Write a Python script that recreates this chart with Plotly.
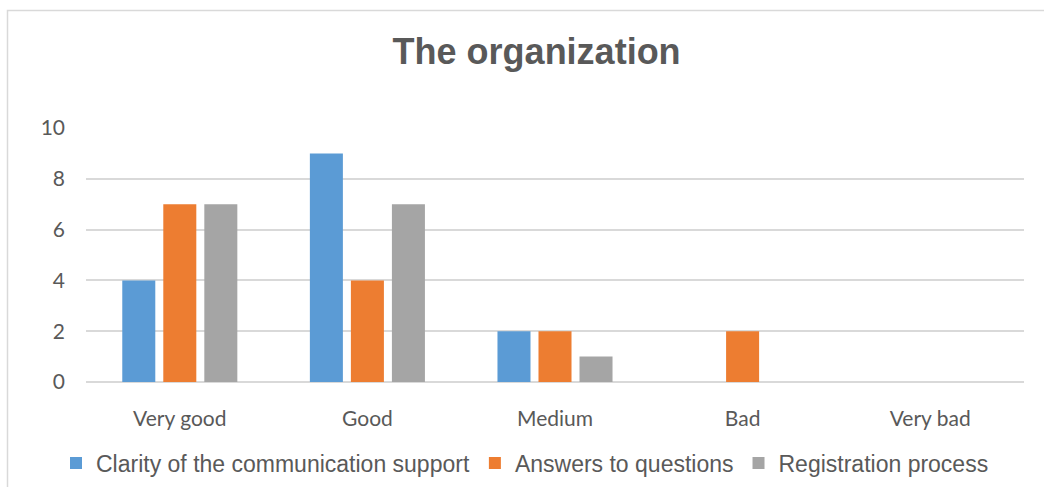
import plotly.graph_objects as go

categories = ["Very good", "Good", "Medium", "Bad", "Very bad"]
clarity = [4, 9, 2, 0, 0]
answers = [7, 4, 2, 2, 0]
registration = [7, 7, 1, 0, 0]
series_names = ["Clarity of the communication support", "Answers to questions", "Registration process"]
colors = ["#5b9bd5", "#ed7d31", "#a5a5a5"]
tick_vals = [0, 2, 4, 6, 8, 10]

fig = go.Figure()
for name, vals, c in zip(series_names, [clarity, answers, registration], colors):
    fig.add_trace(go.Bar(x=categories, y=vals, name=name, marker_color=c, marker_line_width=0))

W, H = 1044, 487
l, r, t, b = 86, 20, 128, 105
fig.update_layout(
    width=W, height=H,
    margin=dict(l=l, r=r, t=t, b=b, autoexpand=False),
    paper_bgcolor="white", plot_bgcolor="white",
    barmode="group", bargap=0.344, bargroupgap=0.195,
    title=dict(text="<b>The organization</b>", x=0.514, xanchor="center", y=1 - 51 / H, yanchor="middle",
               font=dict(family="Liberation Sans, Arial", size=36, color="#595959")),
    legend=dict(orientation="h", xref="container", x=56 / W, xanchor="left",
                yref="container", y=1 - 463 / H, yanchor="middle",
                font=dict(family="Liberation Sans, Arial", size=23, color="#595959"),
                itemwidth=30, traceorder="normal", tracegroupgap=0),
    showlegend=True,
    font=dict(family="Lato", color="#595959"),
)
fig.update_xaxes(showgrid=False, showline=False, ticks="", tickfont=dict(family="Lato", size=21, color="#595959"),
                 ticklabelstandoff=22)
fig.update_yaxes(range=[0, 10], tickvals=tick_vals, showgrid=True, gridcolor="#d9d9d9", gridwidth=1.5,
                 zeroline=True, zerolinecolor="#d9d9d9", zerolinewidth=2, showline=False, ticks="",
                 tickfont=dict(family="Lato", size=21, color="#595959"), ticklabelstandoff=20)
fig.add_shape(type="rect", xref="paper", yref="paper",
              x0=-(l - 7.5) / (W - l - r), x1=(W + 20 - l) / (W - l - r),
              y0=-(b + 20) / (H - t - b), y1=(H - 10.5 - b) / (H - t - b),
              line=dict(color="#d9d9d9", width=1.5), fillcolor="rgba(0,0,0,0)", layer="below")

fig.write_html("out.html")
